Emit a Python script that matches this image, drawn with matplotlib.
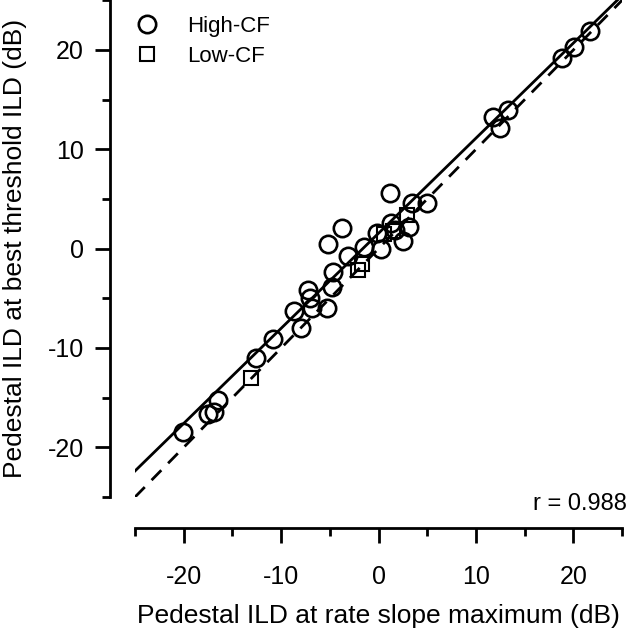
import numpy as np
import matplotlib
matplotlib.use("Agg")
import matplotlib.pyplot as plt
from matplotlib.ticker import MultipleLocator

plt.rcParams['font.family'] = ['Liberation Sans', 'DejaVu Sans']
plt.rcParams['axes.unicode_minus'] = False

# High-CF units: (ILD at rate slope max, ILD at best threshold)
high_x = [-20.1, -17.5, -16.9, -16.5, -12.6, -10.8, -8.7, -8.0, -7.2, -7.0, -6.8,
          -5.3, -4.8, -4.7, -5.2, -3.8, -3.1, -1.5, -0.2, 0.2, 1.2, 1.3, 1.7,
          2.5, 3.1, 3.4, 5.0, 11.7, 13.3, 12.5, 18.8, 20.1, 21.7]
high_y = [-18.5, -16.6, -16.4, -15.2, -11.0, -9.1, -6.3, -8.0, -4.2, -5.0, -6.0,
          -6.0, -3.9, -2.4, 0.5, 2.1, -0.7, 0.2, 1.6, 0.0, 5.6, 2.6, 1.9,
          0.8, 2.2, 4.6, 4.6, 13.2, 14.0, 12.1, 19.2, 20.3, 21.9]

# Low-CF units
low_x = [-13.1, -2.1, -1.7, 0.6, 1.5, 2.9]
low_y = [-13.0, -2.2, -1.5, 1.5, 1.8, 3.4]

# regression line
fit_slope = 0.957
fit_intercept = 1.55
r_value = 0.988

fig = plt.figure(figsize=(6.4, 6.32), dpi=100)
ax = fig.add_axes([0.211, 0.2136, 0.761, 0.786])

line_x = np.array([-25, 25])
ax.plot(line_x, line_x, color='black', lw=2.0, ls=(0, (5, 3.5)))
ax.plot(line_x, fit_intercept + fit_slope * line_x, color='black', lw=2.0)

ax.plot(high_x, high_y, 'o', ms=12.5, mfc='none', mec='black', mew=1.9,
        label='High-CF')
ax.plot(low_x, low_y, 's', ms=10, mfc='none', mec='black', mew=1.5,
        label='Low-CF')

ax.set_xlim(-25, 25)
ax.set_ylim(-25, 25)

for side in ['top', 'right']:
    ax.spines[side].set_visible(False)
ax.spines['left'].set_position(('outward', 18))
ax.spines['bottom'].set_position(('outward', 22))
ax.spines['left'].set_linewidth(2.0)
ax.spines['bottom'].set_linewidth(2.0)

ax.xaxis.set_major_locator(MultipleLocator(10))
ax.xaxis.set_minor_locator(MultipleLocator(5))
ax.yaxis.set_major_locator(MultipleLocator(10))
ax.yaxis.set_minor_locator(MultipleLocator(5))
ax.tick_params(which='major', direction='out', length=11, width=2.0,
               labelsize=18)
ax.tick_params(which='minor', direction='out', length=6, width=2.0)
ax.tick_params(axis='x', which='major', pad=16)
ax.tick_params(axis='y', which='major', pad=8)

ax.set_xlabel('Pedestal ILD at rate slope maximum (dB)', fontsize=19, labelpad=11)
ax.set_ylabel('Pedestal ILD at best threshold ILD (dB)', fontsize=19, labelpad=15)

ax.text(1.01, -0.036, 'r = %.3f' % r_value, transform=ax.transAxes,
        ha='right', va='bottom', fontsize=17)

leg = ax.legend(loc='upper left', frameon=False, fontsize=16, handlelength=1.0,
                handletextpad=1.3, borderaxespad=0.0, labelspacing=0.4,
                borderpad=0.2, bbox_to_anchor=(-0.008, 0.978))

fig.savefig('out.png', dpi=100)
